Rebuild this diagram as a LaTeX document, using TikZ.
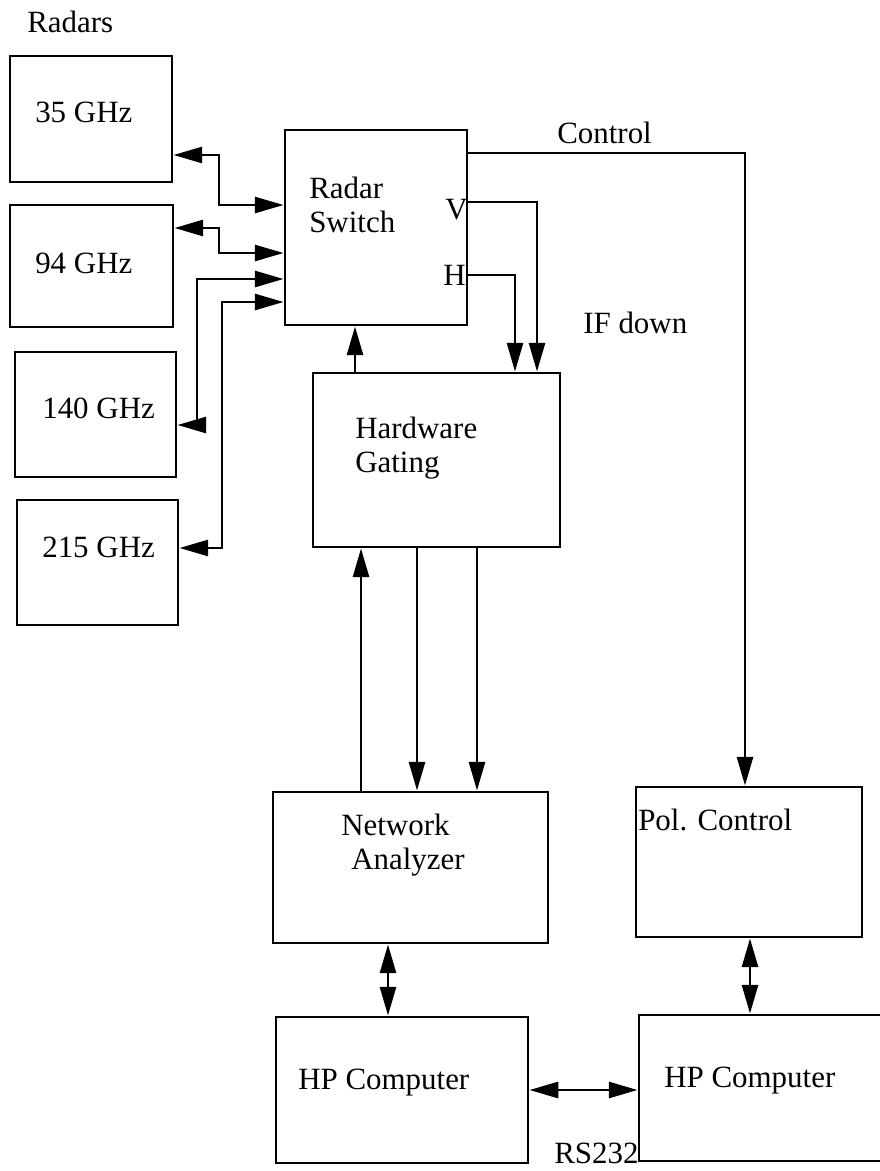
\documentclass[tikz,border=0pt]{standalone}
\usepackage{fontspec}
\setmainfont{Liberation Serif}
\usetikzlibrary{shapes, arrows.meta, positioning, calc}

\begin{document}
\begin{tikzpicture}[x=0.025cm, y=-0.025cm,
  box/.style={draw, line width=2pt, inner sep=0pt},
  txt/.style={anchor=west, inner sep=0pt, align=left, font=\fontsize{22}{24.5}\selectfont},
  arr/.style={line width=2pt, -{Triangle[length=0.72cm, width=0.4cm]}},
  biarr/.style={line width=2pt, {Triangle[length=0.72cm, width=0.4cm]}-{Triangle[length=0.72cm, width=0.4cm]}}]
  \useasboundingbox (0,0) rectangle (880,1171);
  \clip (0,0) rectangle (880,1171);

  % radars
  \node[txt] (radars) at (27,22) {Radars};
  \node[box, minimum width=4.05cm, minimum height=3.15cm] (ghz35) at (91,119) {};
  \node[box, minimum width=4.075cm, minimum height=3.05cm] (ghz94) at (91.5,266) {};
  \node[box, minimum width=4.025cm, minimum height=3.125cm] (ghz140) at (95.5,414.5) {};
  \node[box, minimum width=4.025cm, minimum height=3.125cm] (ghz215) at (97.5,562.5) {};
  \node[txt] (t35) at (35,112) {35 GHz};
  \node[txt] (t94) at (35,263) {94 GHz};
  \node[txt] (t140) at (42,408) {140 GHz};
  \node[txt] (t215) at (42,547) {215 GHz};

  % main chain
  \node[box, minimum width=4.55cm, minimum height=4.875cm] (switch) at (376,227.5) {};
  \node[box, minimum width=6.175cm, minimum height=4.35cm] (gating) at (436.5,460) {};
  \node[box, minimum width=6.875cm, minimum height=3.775cm] (analyzer) at (410.5,867.5) {};
  \node[box, minimum width=5.65cm, minimum height=3.75cm] (polctl) at (749,862) {};
  \node[box, minimum width=6.3cm, minimum height=3.65cm] (hpleft) at (402,1090) {};
  \node[box, minimum width=6.525cm, minimum height=3.65cm] (hpright) at (769.5,1088) {};

  \node[txt] (tswitch) at (309,205) {Radar\\Switch};
  \node[txt] (tv) at (445,210) {V};
  \node[txt] (th) at (443,275) {H};
  \node[txt] (tgating) at (355,448) {Hardware\\Gating};
  \node[txt] (tanalyzer) at (341,845) {Network\\\hspace{0.25cm}Analyzer};
  \node[txt] (tpol) at (638,820) {Pol. Control};
  \node[txt] (thpleft) at (298,1083) {HP Computer};
  \node[txt] (thpright) at (664,1081) {HP Computer};
  \node[txt] (tcontrol) at (557,133) {Control};
  \node[txt] (tifdown) at (583,323) {IF down};
  \node[txt] (trs) at (554,1153) {RS232};

  % radar links
  \draw[biarr] (ghz35.east |- 0,155) -| (219,205) -- (switch.west |- 0,205);
  \draw[biarr] (ghz94.east |- 0,228) -| (219,253) -- (switch.west |- 0,253);
  \draw[biarr] (ghz140.east |- 0,425) -| (197,279) -- (switch.west |- 0,279);
  \draw[biarr] (ghz215.east |- 0,548) -| (222,302) -- (switch.west |- 0,302);

  % V, H and control
  \draw[arr] (switch.east |- 0,202) -| (gating.north -| 537,0);
  \draw[arr] (switch.east |- 0,275) -| (gating.north -| 515,0);
  \draw[arr] (switch.east |- 0,153) -| (polctl.north -| 745,0);
  \draw[arr] (gating.north -| 355,0) -- (switch.south -| 355,0);

  % gating and analyzer
  \draw[arr] (analyzer.north -| 361,0) -- (gating.south -| 361,0);
  \draw[arr] (gating.south -| 417,0) -- (analyzer.north -| 417,0);
  \draw[arr] (gating.south -| 477,0) -- (analyzer.north -| 477,0);

  % computers
  \draw[biarr] (analyzer.south -| 388,0) -- (hpleft.north -| 388,0);
  \draw[biarr] (polctl.south -| 750,0) -- (hpright.north -| 750,0);
  \draw[biarr] (hpleft.east |- 0,1090) -- (hpright.west |- 0,1090);
\end{tikzpicture}
\end{document}
